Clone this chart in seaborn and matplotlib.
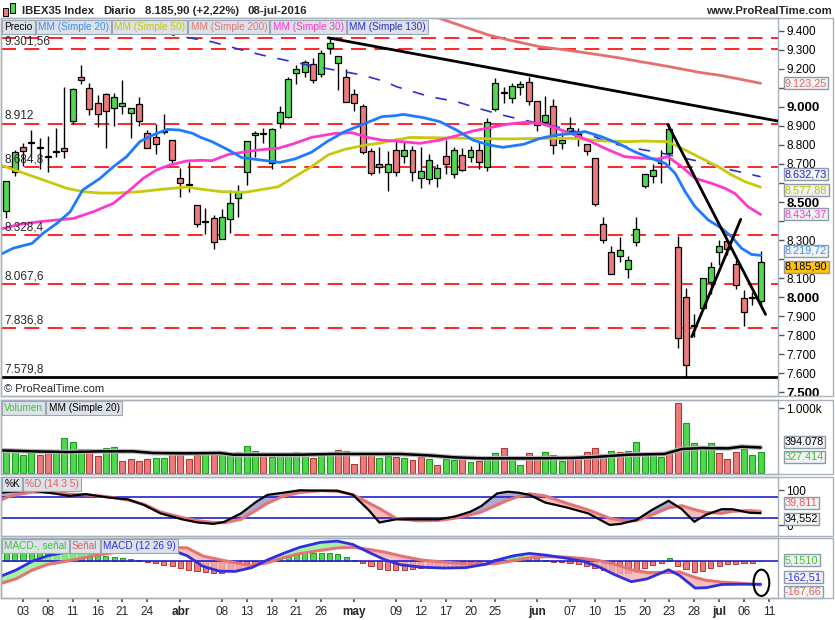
import numpy as np
import pandas as pd
import matplotlib.pyplot as plt
import seaborn as sns
from matplotlib.patches import Rectangle, Ellipse

sns.set_theme(style='white')
plt.rcParams['font.family'] = ['Liberation Sans', 'DejaVu Sans']

# IBEX35 daily bars, index 0 = 1 mar 2016 ... 91 = 8 jul 2016
opens = [8453, 8659, 8787, 8808, 8782, 8736, 8761, 8782, 8927, 9154,
         9097, 9018, 9067, 8993, 9002, 8965, 9013, 8860, 8841, 8869,
         8824, 8624, 8589, 8482, 8393, 8414, 8304, 8409, 8519, 8656,
         8851, 8855, 8703, 8913, 8944, 9175, 9180, 9223, 9170, 9307,
         9228, 9158, 9065, 9006, 8768, 8697, 8655, 8771, 8743, 8771,
         8624, 8619, 8624, 8741, 8645, 8745, 8734, 8771, 8682, 8986,
         9074, 9044, 9105, 9128, 9028, 8918, 9002, 8808, 8873, 8855,
         8803, 8729, 8383, 8236, 8216, 8146, 8288, 8586, 8636, 8703,
         8755, 8262, 8000, 7848, 7942, 8082, 8236, 8297, 8173, 7998,
         7994, 7980]
highs = [8610, 8773, 8808, 8878, 8834, 8846, 8887, 9105, 9100, 9219,
         9123, 9062, 9070, 9070, 9140, 8992, 9049, 8878, 8907, 8962,
         8824, 8680, 8708, 8482, 8467, 8432, 8463, 8563, 8589, 8818,
         8873, 8887, 8887, 9004, 9158, 9219, 9245, 9254, 9298, 9359,
         9268, 9198, 9093, 9013, 8785, 8790, 8768, 8838, 8820, 8794,
         8787, 8752, 8699, 8825, 8790, 8782, 8794, 8813, 8939, 9149,
         9105, 9123, 9135, 9154, 9032, 9056, 9041, 8869, 8946, 8887,
         8803, 8729, 8421, 8269, 8316, 8216, 8421, 8645, 8698, 8773,
         8908, 8321, 8047, 7910, 8099, 8183, 8300, 8297, 8196, 8038,
         8029, 8243]
lows = [8418, 8638, 8691, 8733, 8673, 8659, 8736, 8729, 8908, 9118,
        8957, 8895, 8782, 8901, 8962, 8838, 8901, 8785, 8750, 8855,
        8703, 8528, 8551, 8370, 8332, 8251, 8304, 8339, 8423, 8589,
        8738, 8808, 8671, 8887, 8939, 9118, 9158, 9123, 9158, 9275,
        9088, 9023, 8979, 8750, 8642, 8654, 8559, 8638, 8706, 8612,
        8575, 8593, 8577, 8645, 8628, 8663, 8712, 8673, 8663, 8977,
        9018, 9021, 9062, 9009, 8874, 8904, 8754, 8780, 8873, 8794,
        8747, 8481, 8285, 8120, 8187, 8103, 8271, 8575, 8601, 8601,
        8694, 7735, 7583, 7793, 7933, 8017, 8169, 8221, 8043, 7851,
        7959, 7959]
closes = [8610, 8761, 8766, 8808, 8782, 8736, 8761, 8766, 9093, 9139,
          8986, 8960, 8976, 9049, 9018, 8992, 8925, 8785, 8806, 8869,
          8719, 8598, 8589, 8383, 8393, 8288, 8423, 8493, 8551, 8818,
          8860, 8855, 8881, 8971, 9144, 9196, 9233, 9140, 9280, 9333,
          9268, 9023, 9018, 8761, 8650, 8685, 8697, 8656, 8771, 8659,
          8662, 8719, 8680, 8698, 8771, 8670, 8771, 8712, 8918, 9123,
          9074, 9107, 9117, 9032, 8904, 8955, 8799, 8824, 8890, 8838,
          8766, 8488, 8299, 8120, 8246, 8194, 8358, 8645, 8666, 8707,
          8881, 7784, 7644, 7852, 8099, 8157, 8269, 8251, 8064, 7921,
          8003, 8186]

# volume in thousands and bar colour (g = up, r = down)
volume = [335, 350, 273, 309, 273, 309, 309, 536, 479, 366,
          366, 258, 381, 397, 180, 211, 180, 211, 232, 232,
          324, 324, 211, 273, 294, 294, 294, 273, 319, 412,
          335, 273, 242, 283, 304, 319, 283, 232, 294, 304,
          350, 335, 134, 283, 283, 227, 258, 242, 227, 206,
          242, 216, 118, 216, 201, 232, 170, 191, 232, 309,
          386, 258, 118, 309, 258, 319, 273, 180, 221, 242,
          324, 386, 294, 335, 324, 340, 479, 283, 283, 242,
          324, 1082, 773, 464, 397, 464, 304, 211, 324, 371,
          273, 327]
vol_dir = list('ggggrrggggrrggrrrrggrrrrgrgggggrgggggrggrrrrrggr'
               'grrgrggrgrggrggrrgggrrrrrgrgggggrrggggrrrgg')

# moving averages on price (x = bar index)
ma20_x = [-0.7, 0.8, 3.1, 4.4, 6.1, 7.7, 9.2, 11.3, 12.9, 14.5, 16.1, 17.7, 19.4, 20.9, 22.5, 23.4,
          24.8, 26.8, 28.4, 30.8, 33.0, 34.8, 36.8, 38.8, 40.8, 43.3, 45.3, 46.9, 47.9, 50.3,
          52.3, 54.3, 56.3, 58.3, 59.9, 62.4, 64.4, 66.4, 68.4, 69.8, 71.8, 73.8, 75.8, 77.8,
          79.5, 80.7, 81.9, 83.1, 84.7, 86.3, 87.5, 88.7, 89.9, 91]
ma20_y = [8225, 8257, 8283, 8335, 8388, 8449, 8563, 8624, 8685, 8738, 8817, 8852, 8881, 8878, 8860, 8840,
          8817, 8773, 8733, 8720, 8708, 8726, 8761, 8820, 8869, 8913, 8948, 8953, 8960, 8943,
          8922, 8878, 8825, 8799, 8787, 8803, 8834, 8852, 8860, 8870, 8843, 8808, 8764, 8729,
          8703, 8650, 8554, 8475, 8405, 8362, 8318, 8257, 8225, 8219.72]
ma30_x = [-0.7, 1.6, 4.1, 8.1, 10.5, 12.9, 14.9, 16.5, 18.1, 19.7, 21.7, 23.4,
          24.8, 26.8, 30.4, 32.8, 34.8, 36.8, 39.6, 41.7, 43.7, 45.3, 46.9,
          49.9, 52.3, 54.3, 56.3, 58.3, 60.4, 62.4, 64.4, 66.4, 68.4, 70.4,
          72.2, 74.6, 77.0, 78.6, 79.8, 81.5, 83.1, 85.1, 86.7, 87.9, 89.5, 91]
ma30_y = [8358, 8383, 8397, 8414, 8449, 8493, 8563, 8624, 8668, 8694, 8715, 8719,
          8717, 8750, 8773, 8782, 8808, 8839, 8860, 8864, 8838, 8825, 8820,
          8808, 8825, 8848, 8873, 8890, 8908, 8918, 8913, 8887, 8855, 8820,
          8782, 8738, 8729, 8726, 8738, 8685, 8624, 8598, 8572, 8545, 8475, 8434.37]
ma50_x = [-0.7, 1.6, 4.5, 7.3, 9.3, 11.3, 13.3, 16.1, 18.5, 20.1, 21.7, 23.4,
          26.0, 28.8, 32.8, 34.8, 36.8, 38.8, 40.8, 43.3, 44.9, 46.9,
          48.7, 52.3, 56.3, 60.4, 64.4, 68.4,
          72.2, 75.0, 77.0, 79.8, 81.9, 84.3, 85.9, 87.5, 89.1, 91]
ma50_y = [8694, 8659, 8615, 8572, 8554, 8547, 8547, 8554, 8566, 8572, 8579, 8568,
          8554, 8551, 8580, 8633, 8685, 8747, 8776, 8799, 8808, 8825,
          8839, 8837, 8834, 8831, 8834, 8834,
          8820, 8817, 8820, 8817, 8773, 8720, 8685, 8642, 8607, 8577.88]
ma130_x = [19.0, 20.1, 21.9, 24.8, 28.0, 30.8, 33.6, 36.4, 39.6, 42.9, 45.7, 47.1, 51.1, 54.3,
           56.7, 59.5, 62.4, 64.4, 67.2, 70.4, 73.0, 75.8, 78.6, 81.9, 84.7, 87.5, 91]
ma130_y = [9395, 9377, 9363, 9341, 9303, 9272, 9245, 9219, 9193, 9167, 9132, 9105, 9053, 9027,
           8995, 8960, 8930, 8913, 8887, 8852, 8808, 8782, 8761, 8729, 8703, 8668, 8632.73]
ma200_x = [50, 52.9, 55.9, 58.3, 60.7, 64.4, 68.4, 70.4, 74.0, 79.8, 83.7, 86.1, 88.5, 91]
ma200_y = [9500, 9455, 9410, 9375, 9350, 9315, 9293, 9280, 9256, 9212, 9180, 9165, 9145, 9123.25]

# horizontal levels drawn on the price chart
levels = [9359.2, 9301.56, 8912, 8684.8, 8328.4, 8067.6, 7836.8]
level_labels = ['9.359,2', '9.301,56', '8.912', '8.684,8', '8.328,4', '8.067,6', '7.836,8']
support = 7579.8

# volume MA20
vma_x = [-0.7, 3.2, 7.3, 11.3, 15.3, 17.7, 21.7, 25.8, 27.4, 31.4, 35.4, 39.4, 43.5, 47.5,
         50.9, 54.1, 57.3, 63.0, 68.2, 71.0, 75.0, 79.4, 81.5, 83.9, 87.1, 88.7, 91]
vma_y = [350, 335, 324, 335, 335, 309, 304, 309, 283, 283, 283, 294, 294, 294,
         273, 242, 227, 227, 232, 247, 283, 294, 371, 386, 381, 407, 394.078]

# stochastic %K / %D (14 3 5)
sto_x = [-0.7, 0.5, 3.1, 5.7, 7.6, 9.6, 12.1, 14.7, 16.6, 18.6, 21.2, 23.1, 25.0, 26.3, 28.3,
         30.2, 31.5, 33.4, 35.4, 37.9, 39.9, 41.8, 43.7, 45.0, 47.0, 49.6, 52.1, 54.1, 56.0,
         57.3, 59.2, 60.5, 61.8, 63.1, 65.0, 67.6, 70.2, 72.8, 74.1, 76.0, 77.9, 79.9, 81.5,
         83.0, 84.4, 86.3, 87.6, 89.6, 91]
sto_k = [93, 96, 99, 91, 84, 89, 80, 74, 58, 34, 17, 8, 4, 10, 34, 68, 87, 93, 100, 99,
         99, 87, 44, 8, 17, 17, 17, 25, 39, 55, 91, 96, 93, 87, 65, 51, 34, 1, 4, 15,
         44, 70, 46, 10, 30, 46, 46, 36, 34.552]
sto_d = [72, 84, 95, 94, 89, 87, 82, 72, 60, 38, 22, 13, 8, 7, 17, 44, 63, 83, 94, 99,
         97, 88, 64, 48, 20, 13, 14, 20, 30, 38, 58, 72, 82, 90, 84, 63, 44, 20, 14, 13,
         30, 50, 56, 45, 37, 34, 40, 42, 39.811]

# MACD (12 26 9)
macd_x = [-0.7, 1.2, 3.1, 5.0, 7.6, 10.8, 14.0, 17.2, 20.4, 21.8, 23.7, 25.7, 27.6, 29.6, 31.5,
          33.4, 35.4, 37.9, 39.9, 41.8, 43.7, 45.7, 47.6, 50.2, 52.8, 55.4, 57.9, 59.2, 61.2,
          63.1, 65.0, 67.6, 69.6, 71.5, 73.4, 75.4, 77.3, 79.9, 81.2, 83.1, 84.4, 86.3, 88.3, 91]
macd_line = [-107, -61, 0, 40, 70, 92, 95, 90, 70, 40, -35, -70, -72, -45, 10,
             56, 100, 135, 144, 120, 65, 10, -25, -42, -48, -45, -20, 9, 40,
             56, 45, 22, 0, -40, -95, -145, -125, -60, -100, -190, -188, -165, -163, -162.51]
macd_signal = [-158, -124, -63, -22, 5, 42, 72, 92, 98, 96, 38, 12, -10, -30, -10,
               25, 55, 78, 95, 100, 85, 65, 38, 8, -5, -18, -18, -14, 5,
               25, 33, 30, 20, 5, -20, -60, -80, -80, -75, -115, -135, -148, -155, -167.66]
macd_hist = [63, 63, 63, 63, 63, 63, 63, 63, 61, 56, 51, 44, 37, 30, 23, 19, 7, -7, -14, -23,
             -35, -47, -61, -70, -79, -84, -84, -70, -54, -37, -19, 5, 14, 21, 33, 47, 56, 61, 61, 56,
             51, 28, 9, -9, -33, -54, -61, -65, -63, -56, -51, -49, -47, -44, -37, -30, -23, -14, 2, 14,
             26, 33, 35, 30, 21, 12, -2, -7, -12, -19, -30, -47, -63, -77, -84, -84, -75, -47, -26, -9,
             23, -30, -56, -77, -70, -49, -33, -21, -16, -12, -14, 5.151]

tick_pos = [2, 5, 8, 11, 14, 17, 21, 26, 29, 32, 35, 38, 42, 47, 50, 53, 56, 59, 64, 68,
            71, 74, 77, 80, 83, 86, 89, 92]
tick_lab = ['03', '08', '11', '16', '21', '24', 'abr', '08', '13', '18', '21', '26', 'may',
            '09', '12', '17', '20', '25', 'jun', '07', '10', '15', '20', '23', '28', 'jul', '06', '11']

GREEN = '#4FD94F'
RED = '#EC7B7B'
FRAME = '#A8B2BC'

W, H = 835, 620
fig = plt.figure(figsize=(W / 100, H / 100), dpi=100)
fig.patch.set_facecolor('white')
renderer = fig.canvas.get_renderer()


def px_axes(x0, y0, x1, y1):
    return fig.add_axes([x0 / W, 1 - y1 / H, (x1 - x0) / W, (y1 - y0) / H])


ax_p = px_axes(1, 18, 778, 396)
ax_v = px_axes(1, 400, 778, 474)
ax_s = px_axes(1, 477, 778, 536)
ax_m = px_axes(1, 538, 778, 598)

for ax in (ax_p, ax_v, ax_s, ax_m):
    ax.set_facecolor('white')
    for s in ax.spines.values():
        s.set_color(FRAME)
        s.set_linewidth(1)
    ax.yaxis.tick_right()
    ax.tick_params(axis='y', direction='out', length=4, width=1, color='#555555',
                   labelsize=8.5, pad=2, labelcolor='black', left=False, right=True)
    ax.tick_params(axis='x', bottom=False, labelbottom=False)
    ax.grid(False)

# panel frames incl. the scale area
for y0, y1 in [(18, 396), (400, 474), (477, 536), (538, 598)]:
    fig.add_artist(Rectangle((1 / W, 1 - y1 / H), 832 / W, (y1 - y0) / H, fill=False,
                             ec=FRAME, lw=1, transform=fig.transFigure))


def line(ax, xs, ys, color, lw=2.0, **kw):
    sns.lineplot(x=xs, y=ys, ax=ax, color=color, linewidth=lw, sort=False,
                 estimator=None, errorbar=None, legend=False, **kw)


def value_box(ax, yv, text, color, fc='#F3F3F3'):
    ax.text(1.009, yv, text, transform=ax.get_yaxis_transform(), color=color, fontsize=7.8,
            va='center', ha='left', zorder=20, clip_on=False,
            bbox=dict(boxstyle='square,pad=0.1', fc=fc, ec='#8C9BAA', lw=1))


# ---------------- price panel
x = np.arange(len(opens))
o = np.array(opens, dtype=float)
c = np.array(closes, dtype=float)
up = c >= o

for v, lab in zip(levels, level_labels):
    ax_p.axhline(v, color='#FF0000', lw=1.2, ls=(0, (9, 5)), zorder=1)
    ax_p.text(0.004, v + 8, lab, transform=ax_p.get_yaxis_transform(), fontsize=8.5,
              va='bottom', ha='left', zorder=7)
ax_p.axhline(support, color='black', lw=2, zorder=1)
ax_p.text(0.004, support + 8, '7.579,8', transform=ax_p.get_yaxis_transform(), fontsize=8.5,
          va='bottom', ha='left', zorder=7)
ax_p.text(0.004, 7518, '© ProRealTime.com', transform=ax_p.get_yaxis_transform(),
          fontsize=8, va='center', ha='left')

ax_p.vlines(x, lows, highs, color='black', lw=1, zorder=3)
ax_p.bar(x, np.maximum(np.abs(c - o), 6), bottom=np.minimum(o, c), width=0.72,
         color=np.where(up, GREEN, RED), edgecolor='black', linewidth=0.9, zorder=4)

line(ax_p, ma200_x, ma200_y, '#E57070', zorder=5)
line(ax_p, ma130_x, ma130_y, '#2E2ED6', lw=1.2, linestyle=(0, (7, 7)), zorder=5)
line(ax_p, ma50_x, ma50_y, '#C8C80E', zorder=5)
line(ax_p, ma30_x, ma30_y, '#FF38CC', zorder=5)
line(ax_p, ma20_x, ma20_y, '#1E7BFF', zorder=5)

# hand drawn trend lines
ax_p.plot([38.83, 93.1], [9362, 8925], color='black', lw=2, zorder=6)
ax_p.plot([79.8, 91.6], [8907, 7910], color='black', lw=2, zorder=6)
ax_p.plot([82.7, 88.6], [7793, 8409], color='black', lw=2, zorder=6)

ax_p.set_xlim(-0.65, 93.1)
ax_p.set_ylim(7481.6, 9466)
pt = list(range(7500, 9500, 100))
hidden = {9100, 8600, 8400, 8200}   # covered by the value boxes in the reference
ax_p.set_yticks(pt, labels=['' if v in hidden else f'{v:,}'.replace(',', '.') for v in pt])
for t, v in zip(ax_p.get_yticklabels(), pt):
    if v % 500 == 0:
        t.set_fontweight('bold')
        t.set_fontsize(9.5)

value_box(ax_p, 9123, '9.123,25', '#E06666')
value_box(ax_p, 8646, '8.632,73', '#1F1FCC')
value_box(ax_p, 8563, '8.577,88', '#C0C000')
value_box(ax_p, 8437, '8.434,37', '#FF33CC')
value_box(ax_p, 8244, '8.219,72', '#3A8DFF')
value_box(ax_p, 8160, '8.185,90', 'black', fc='#FFC20E')

# ---------------- volume panel
vcol = [GREEN if d == 'g' else RED for d in vol_dir]
vedge = ['#1E9A1E' if d == 'g' else '#B03A3A' for d in vol_dir]
ax_v.bar(x, volume, width=0.72, color=vcol, edgecolor=vedge, linewidth=0.8, zorder=2)
line(ax_v, vma_x, vma_y, '#B8B8B8', lw=3.5, zorder=3)
line(ax_v, vma_x, vma_y, 'black', lw=1.8, zorder=4)
ax_v.set_xlim(-0.65, 93.1)
ax_v.set_ylim(-15, 1128)
ax_v.set_yticks([1000], labels=['1.000k'])
value_box(ax_v, 482, '394.078', 'black')
value_box(ax_v, 244, '327.414', '#3CC03C')

# ---------------- stochastic panel
sk = np.array(sto_k, dtype=float)
sd = np.array(sto_d, dtype=float)
ax_s.fill_between(sto_x, sk, sd, where=sk >= sd, interpolate=True, color='#8E8EC8',
                  alpha=0.75, lw=0, zorder=2)
ax_s.fill_between(sto_x, sk, sd, where=sk < sd, interpolate=True, color='#F4A6A6',
                  alpha=0.75, lw=0, zorder=2)
ax_s.axhline(80, color='#2020D0', lw=1.2, zorder=3)
ax_s.axhline(20, color='#2020D0', lw=1.2, zorder=3)
line(ax_s, sto_x, sto_d, '#E57373', lw=2.2, zorder=4)
line(ax_s, sto_x, sto_k, 'black', lw=1.6, zorder=5)
ax_s.set_xlim(-0.65, 93.1)
ax_s.set_ylim(-30.6, 138)
ax_s.set_yticks([0, 100], labels=['0', '100'])
value_box(ax_s, 64, '39,811', '#E06060')
value_box(ax_s, 18, '34,552', 'black')

# ---------------- MACD panel
mh = np.array(macd_hist)
ax_m.bar(x, mh, width=0.62, color=np.where(mh >= 0, GREEN, RED),
         edgecolor=np.where(mh >= 0, '#1E9A1E', '#B03A3A'), linewidth=0.7, zorder=2)
ml = np.array(macd_line, dtype=float)
ms = np.array(macd_signal, dtype=float)
ax_m.fill_between(macd_x, ml, ms, where=ml >= ms, interpolate=True, color='#90EE90',
                  alpha=0.8, lw=0, zorder=3)
ax_m.fill_between(macd_x, ml, ms, where=ml < ms, interpolate=True, color='#F4B0B0',
                  alpha=0.8, lw=0, zorder=3)
ax_m.axhline(0, color='#2020D0', lw=1.2, zorder=3)
line(ax_m, macd_x, macd_signal, '#E57373', lw=2.2, zorder=4)
line(ax_m, macd_x, macd_line, '#2F2FE0', lw=2.0, zorder=5)
ax_m.add_patch(Ellipse((91.1, -153), 1.9, 187, fill=False, ec='black', lw=1.5, zorder=6))
ax_m.set_xlim(-0.65, 93.1)
ax_m.set_ylim(-261, 166)
ax_m.set_yticks([])
value_box(ax_m, 7, '5,1510', '#3CC03C')
value_box(ax_m, -112, '-162,51', '#2F2FE0')
value_box(ax_m, -218, '-167,66', '#E06060')

ax_m.set_xticks(tick_pos, labels=tick_lab)
ax_m.tick_params(axis='x', bottom=True, labelbottom=True, direction='out', length=3,
                 color='#555555', labelsize=8.5, pad=3)
for t in ax_m.get_xticklabels():
    if t.get_text() in ('abr', 'may', 'jun', 'jul'):
        t.set_fontweight('bold')


# ---------------- legend tags, laid out left to right like the reference
def tag_row(yp, items, size=7.2, pad=0.22):
    pad_px = pad * size * 100 / 72
    xp = 2 + pad_px
    for text, color in items:
        t = fig.text(xp / W, 1 - yp / H, text, color=color, fontsize=size, ha='left',
                     va='center', zorder=30,
                     bbox=dict(boxstyle=f'square,pad={pad}', fc='#DCE2E8', ec='#9AA6B2', lw=0.8))
        ext = t.get_window_extent(renderer)
        xp = ext.x1 + 2 * pad_px + 1


tag_row(27, [('Precio', 'black'), ('MM (Simple 20)', '#3C8CF0'), ('MM (Simple 50)', '#C8C800'),
             ('MM (Simple 200)', '#E57373'), ('MM (Simple 30)', '#FF33CC'),
             ('MM (Simple 130)', '#2B2BD0')])
tag_row(408, [('Volumen', '#40C040'), ('MM (Simple 20)', 'black')])
tag_row(484, [('%K', 'black'), ('%D (14 3 5)', '#E06060')])
tag_row(546, [('MACD-, señal', '#40C040'), ('Señal', '#E06060'), ('MACD (12 26 9)', '#2F2FE0')])

# ---------------- header
hy = 1 - 11 / H
hx = 22
for word in ['IBEX35 Index', 'Diario', '8.185,90 (+2,22%)', '08-jul-2016']:
    t = fig.text(hx / W, hy, word, fontsize=8.2, fontweight='bold', va='center')
    hx = t.get_window_extent(renderer).x1 + 9
fig.text(832 / W, hy, 'www.ProRealTime.com', fontsize=8.2, fontweight='bold', va='center', ha='right')
fig.add_artist(Rectangle((3 / W, 1 - 16 / H), 5 / W, 8 / H, fc=RED, ec='black', lw=0.7,
                         transform=fig.transFigure))
fig.add_artist(Rectangle((10 / W, 1 - 13 / H), 5 / W, 10 / H, fc=GREEN, ec='black', lw=0.7,
                         transform=fig.transFigure))

fig.savefig('out.png', dpi=100)
